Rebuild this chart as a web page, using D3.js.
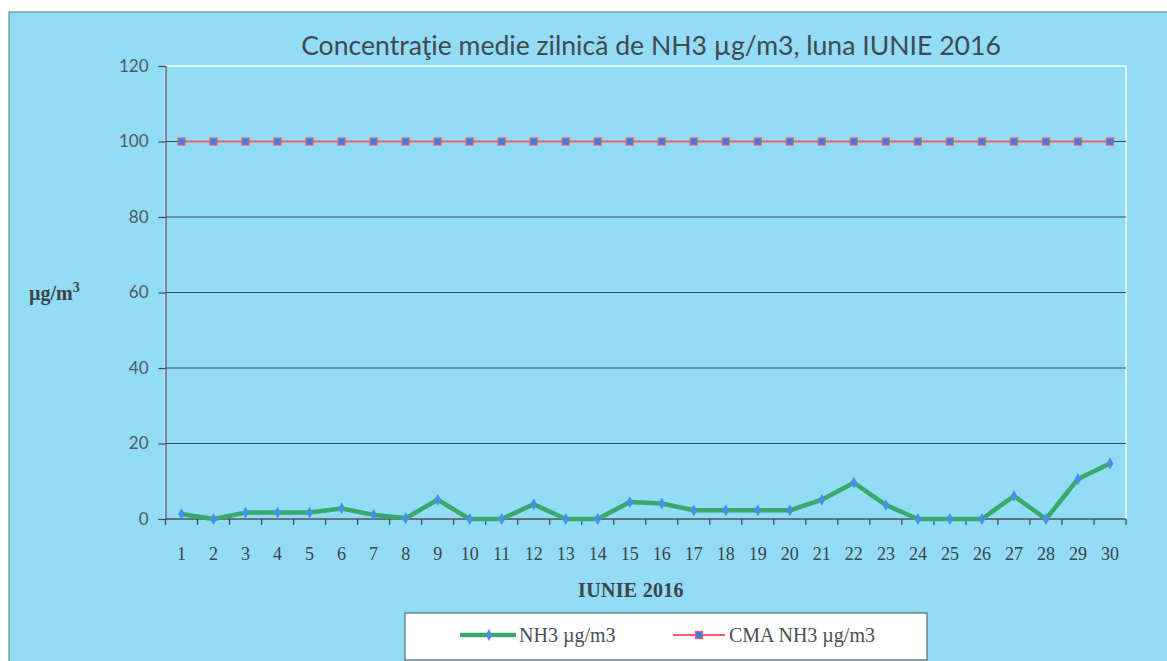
<!DOCTYPE html>
<html><head><meta charset="utf-8">
<script src="https://cdn.jsdelivr.net/npm/d3@7"></script>
<style>
html,body{margin:0;padding:0;background:#fff;}
svg{display:block;}
</style></head>
<body>
<svg id="chart" width="1167" height="661"></svg>
<script>
const days = d3.range(1, 31).map(String);
const nh3 = [1.3, 0, 1.7, 1.7, 1.7, 2.8, 1.1, 0.2, 5.1, 0, 0, 3.9, 0, 0, 4.5, 4.1, 2.3, 2.3, 2.3, 2.3, 5.1, 9.6, 3.7, 0, 0, 0, 6.1, 0, 10.6, 14.7];
const cma = days.map(() => 100);
const yTicks = [0, 20, 40, 60, 80, 100, 120];
const title = "Concentraţie medie zilnică de NH3 µg/m3, luna IUNIE 2016";
const xTitle = "IUNIE 2016";
const seriesNames = ["NH3 µg/m3", "CMA NH3 µg/m3"];

const svg = d3.select("#chart");
const bg = "#92dcf6";
// outer chart area
svg.append("rect").attr("x", 9).attr("y", 12).attr("width", 1170).attr("height", 660)
  .attr("fill", bg).attr("stroke", "#6f8a96").attr("stroke-width", 1.2);

const m = {left: 165.5, right: 1126, top: 66, bottom: 519};
const x = d3.scaleBand().domain(days).range([m.left, m.right]);
const y = d3.scaleLinear().domain([0, 120]).range([m.bottom, m.top]);

// plot area border (white top/right)
svg.append("rect").attr("x", m.left).attr("y", m.top).attr("width", m.right - m.left).attr("height", m.bottom - m.top)
  .attr("fill", "none").attr("stroke", "#f4fbff").attr("stroke-width", 1.5);

// gridlines
svg.append("g").selectAll("line").data(yTicks.filter(t => t > 0 && t < 120)).join("line")
  .attr("x1", m.left).attr("x2", m.right)
  .attr("y1", d => y(d)).attr("y2", d => y(d))
  .attr("stroke", "#3b4b55").attr("stroke-width", 1.2);

// y axis
const yAxis = svg.append("g").attr("transform", `translate(${m.left},0)`)
  .call(d3.axisLeft(y).tickValues(yTicks).tickSize(7).tickPadding(10));
yAxis.select(".domain").attr("stroke", "#3b4b55").attr("stroke-width", 1.2);
yAxis.selectAll(".tick line").attr("stroke", "#3b4b55").attr("stroke-width", 1.2);
yAxis.selectAll("text").attr("font-family", "Lato, 'Open Sans', sans-serif").attr("font-size", 17).attr("fill", "#505a60");

// x axis with ticks at category boundaries
const xAxisG = svg.append("g").attr("transform", `translate(0,${m.bottom})`);
xAxisG.append("line").attr("x1", m.left).attr("x2", m.right).attr("y1", 0).attr("y2", 0)
  .attr("stroke", "#3b4b55").attr("stroke-width", 1.4);
const bounds = days.map(d => x(d)).concat([x(days[days.length - 1]) + x.bandwidth()]);
xAxisG.selectAll("line.tk").data(bounds).join("line").attr("class", "tk")
  .attr("x1", d => d).attr("x2", d => d).attr("y1", 0).attr("y2", 6)
  .attr("stroke", "#3b4b55").attr("stroke-width", 1.2);
xAxisG.selectAll("text").data(days).join("text")
  .attr("x", d => x(d) + x.bandwidth() / 2).attr("y", 41)
  .attr("text-anchor", "middle")
  .attr("font-family", "'Liberation Serif', 'Times New Roman', serif").attr("font-size", 18)
  .attr("fill", "#3c4448").text(d => d);

// axis titles
svg.append("text").attr("x", 631).attr("y", 597).attr("text-anchor", "middle")
  .attr("font-family", "'Liberation Serif', serif").attr("font-weight", "bold").attr("font-size", 20)
  .attr("letter-spacing", 0.3)
  .attr("fill", "#3c4448").text(xTitle);
const yl = svg.append("text").attr("x", 29).attr("y", 300)
  .attr("font-family", "'Liberation Serif', serif").attr("font-weight", "bold").attr("font-size", 20)
  .attr("fill", "#3c4448");
yl.append("tspan").text("µg/m");
yl.append("tspan").attr("dy", -8).attr("font-size", 14).text("3");

// title
svg.append("text").attr("x", 651).attr("y", 55).attr("text-anchor", "middle")
  .attr("font-family", "Lato, 'Open Sans', sans-serif").attr("font-size", 26.6)
  .attr("fill", "#3f4a50").text(title);

const cx = d => x(d) + x.bandwidth() / 2;
const line = d3.line().x((d, i) => cx(days[i])).y(d => y(d));

// CMA series
const red = "#f25f6e", green = "#3ba86b", blue = "#4a8fe6";
svg.append("path").datum(cma).attr("d", line).attr("fill", "none").attr("stroke", red).attr("stroke-width", 2);
svg.append("g").selectAll("rect").data(cma).join("rect")
  .attr("x", (d, i) => cx(days[i]) - 3.5).attr("y", d => y(d) - 3.5)
  .attr("width", 7).attr("height", 7).attr("fill", "#3f7fd8").attr("stroke", "#e0607a").attr("stroke-width", 1.2);

// NH3 series
svg.append("path").datum(nh3).attr("d", line).attr("fill", "none").attr("stroke", green)
  .attr("stroke-width", 4.5).attr("stroke-linejoin", "round");
const diamond = d3.symbol().type(d3.symbolDiamond).size(40);
svg.append("g").selectAll("path").data(nh3).join("path")
  .attr("transform", (d, i) => `translate(${cx(days[i])},${y(d)})`)
  .attr("d", diamond).attr("fill", blue);

// legend
const lg = svg.append("g");
lg.append("rect").attr("x", 405).attr("y", 613).attr("width", 522).attr("height", 47)
  .attr("fill", "#ffffff").attr("stroke", "#5b6a72").attr("stroke-width", 1.2);
lg.append("line").attr("x1", 460).attr("x2", 516).attr("y1", 635).attr("y2", 635)
  .attr("stroke", green).attr("stroke-width", 4.5);
lg.append("path").attr("transform", "translate(489,635)").attr("d", diamond).attr("fill", blue);
lg.append("text").attr("x", 519).attr("y", 642).attr("font-family", "'Liberation Serif', serif")
  .attr("font-size", 20).attr("fill", "#4a4f55").text(seriesNames[0]);
lg.append("line").attr("x1", 673).attr("x2", 725).attr("y1", 635).attr("y2", 635)
  .attr("stroke", red).attr("stroke-width", 2);
lg.append("rect").attr("x", 695.5).attr("y", 631.5).attr("width", 7).attr("height", 7)
  .attr("fill", "#3f7fd8").attr("stroke", "#e0607a").attr("stroke-width", 1.2);
lg.append("text").attr("x", 729).attr("y", 642).attr("font-family", "'Liberation Serif', serif")
  .attr("font-size", 20).attr("fill", "#4a4f55").text(seriesNames[1]);
</script>
</body></html>
